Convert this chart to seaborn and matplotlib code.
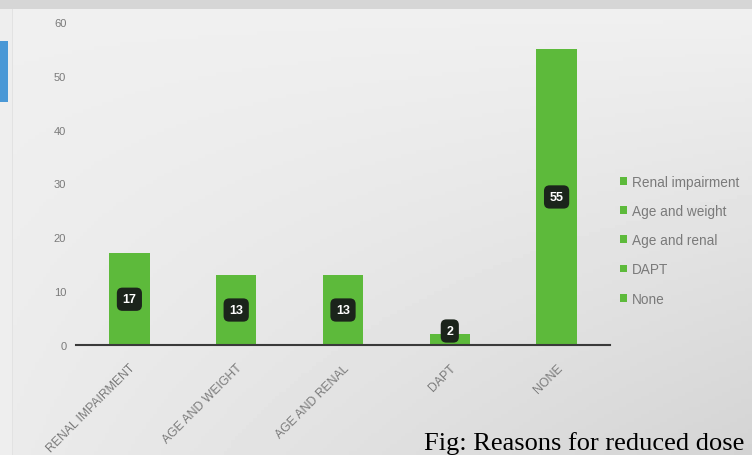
import numpy as np
import pandas as pd
import matplotlib
matplotlib.use("Agg")
import matplotlib.pyplot as plt
import seaborn as sns
from matplotlib.patches import Rectangle

categories = ["Renal impairment", "Age and weight", "Age and renal", "DAPT", "None"]
values = [17, 13, 13, 2, 55]
tick_labels = ["RENAL IMPAIRMENT", "AGE AND WEIGHT", "AGE AND RENAL", "DAPT", "NONE"]
y_ticks = [0, 10, 20, 30, 40, 50, 60]
caption = "Fig: Reasons for reduced dose"

GREEN = "#5dba3b"
GREY_TXT = "#7a7a7a"

sns.set_theme(style="white")
plt.rcParams['font.family'] = ['Liberation Sans', 'DejaVu Sans']

W, H = 752, 456
fig = plt.figure(figsize=(W / 100, H / 100), dpi=100)
fig.patch.set_facecolor("#e2e2e2")

# photo-like gradient background
bg = fig.add_axes([13 / W, 0, 1 - 13 / W, 1 - 10 / H], zorder=0)
gx = np.linspace(0, 1, 200)
gy = np.linspace(0, 1, 120)
GX, GY = np.meshgrid(gx, gy)
grad = 0.94 - 0.09 * GX * GY - 0.02 * GY
bg.imshow(grad, cmap="gray", vmin=0, vmax=1, aspect="auto", extent=[0, 1, 1, 0])
bg.set_axis_off()

# left strip decoration
fig.patches.append(Rectangle((0, 0), 12 / W, 1, transform=fig.transFigure,
                             facecolor="#eeeeee", edgecolor="none", zorder=1))
fig.patches.append(Rectangle((0, 1 - 103 / H), 8 / W, 61 / H, transform=fig.transFigure,
                             facecolor="#4a98d6", edgecolor="none", zorder=2))
fig.patches.append(Rectangle((0, 1 - 10 / H), 1, 10 / H, transform=fig.transFigure,
                             facecolor="#d6d6d6", edgecolor="none", zorder=1))

ax = fig.add_axes([76 / W, (H - 346) / H, (610 - 76) / W, (346 - 23) / H], zorder=2)
ax.set_facecolor("none")

df = pd.DataFrame({"cat": categories, "val": values})
sns.barplot(data=df, x="cat", y="val", hue="cat", palette=[GREEN] * len(categories),
            width=0.38, dodge=False, legend=True, ax=ax, saturation=1, linewidth=0)

ax.set_xlim(-0.5, len(categories) - 0.5)
ax.set_ylim(0, 60)
ax.set_yticks(y_ticks)
ax.set_yticklabels([str(t) for t in y_ticks], color=GREY_TXT, fontsize=8)
ax.set_xticks(range(len(categories)))
ax.set_xticklabels(tick_labels, rotation=45, ha="right", rotation_mode="anchor",
                   color=GREY_TXT, fontsize=8.8)
ax.set_xticks(np.arange(-0.5, len(categories), 1.0), minor=True)
ax.tick_params(axis="x", which="major", length=0, pad=12)
ax.tick_params(axis="x", which="minor", length=4, width=1.2, color="#444444", direction="out")
ax.tick_params(axis="y", length=0, pad=7)
ax.set_xlabel("")
ax.set_ylabel("")
for s in ["top", "right", "left"]:
    ax.spines[s].set_visible(False)
ax.spines["bottom"].set_color("#3a3a3a")
ax.spines["bottom"].set_linewidth(1.5)

for i, v in enumerate(values):
    ax.text(i, max(v / 2, 2.6), str(v), ha="center", va="center", color="white",
            fontsize=9, fontweight="bold",
            bbox=dict(boxstyle="round,pad=0.45", facecolor="#1b241b", edgecolor="none"))

leg = ax.legend(loc="center left", bbox_to_anchor=(1.0 + 10 / 534, 0.325), frameon=False,
                fontsize=9.8, labelspacing=1.12, handlelength=0.5, handleheight=0.5,
                handletextpad=0.35, borderaxespad=0, borderpad=0)
for t in leg.get_texts():
    t.set_color(GREY_TXT)

fig.text(744 / W, 1 - 450 / H, caption, ha="right", va="baseline", fontsize=19,
         family=["Liberation Serif", "DejaVu Serif"], color="black", zorder=5)

fig.savefig("out.png", dpi=100)
